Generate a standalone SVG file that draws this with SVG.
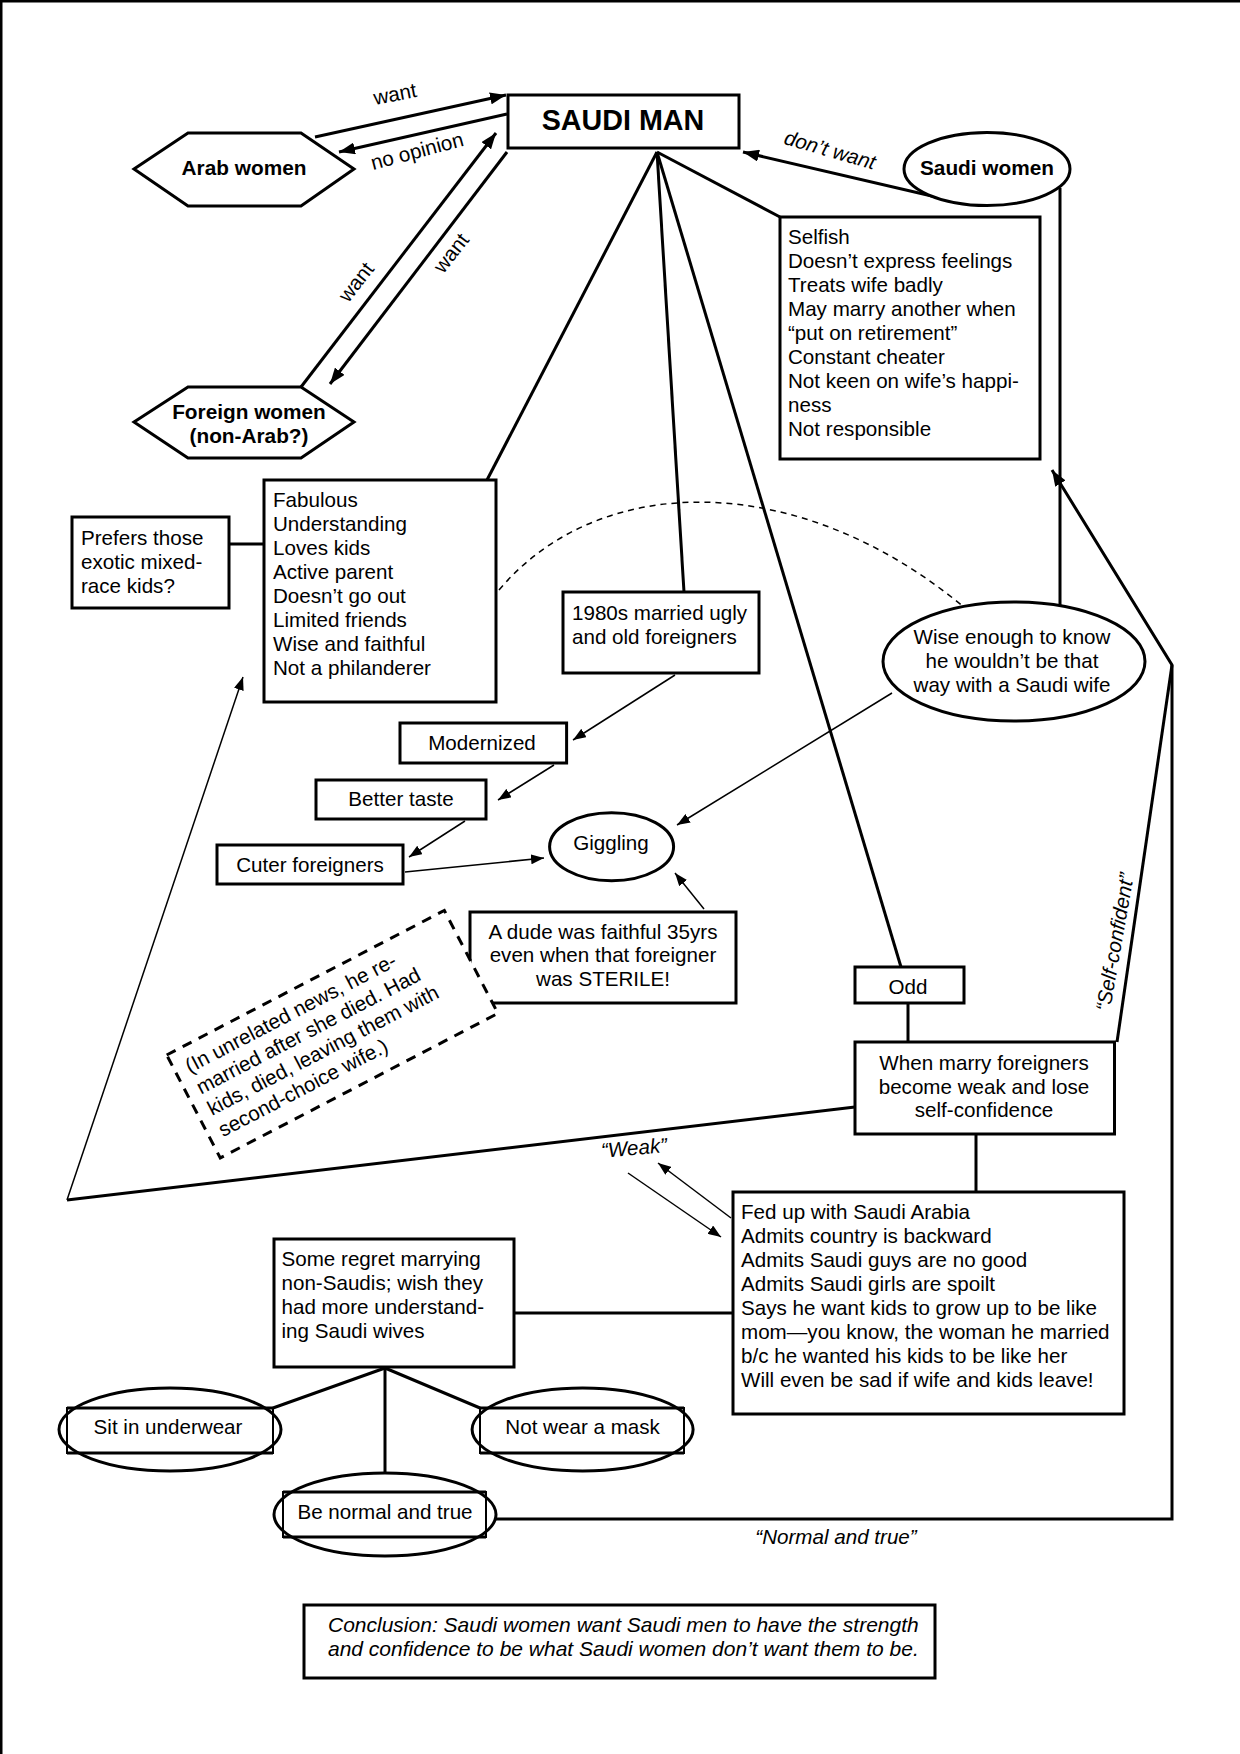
<svg xmlns="http://www.w3.org/2000/svg" width="1240" height="1754" viewBox="0 0 1240 1754">
<style>
.box{fill:#fff;stroke:#000;stroke-width:3}
.t{font-family:"Liberation Sans",Arial,sans-serif;font-size:20.6px;fill:#000}
.b{font-weight:bold}
.i{font-style:italic}
.c{text-anchor:middle}
.ln{stroke:#000;stroke-width:3;fill:none}
.thin{stroke:#000;stroke-width:1.5;fill:none}
</style>
<defs>
<marker id="ah" markerUnits="userSpaceOnUse" markerWidth="17" markerHeight="12" refX="16" refY="6" orient="auto"><path d="M0,0 L16,6 L0,12 z" fill="#000"/></marker>
<marker id="ahs" markerUnits="userSpaceOnUse" markerWidth="14" markerHeight="10" refX="13" refY="5" orient="auto"><path d="M0,0 L13,5 L0,10 z" fill="#000"/></marker>
</defs>
<rect width="1240" height="1754" fill="#fff"/>
<g id="page-border">
<line x1="0" y1="1" x2="1240" y2="1" class="ln" stroke-width="2"/>
<line x1="1" y1="0" x2="1" y2="1754" class="ln" stroke-width="2"/>
</g>

<g id="connectors">
<line x1="315" y1="137" x2="506" y2="95" class="ln" marker-end="url(#ah)"/>
<line x1="507" y1="114" x2="339" y2="152" class="ln" marker-end="url(#ah)"/>
<line x1="301" y1="387" x2="496" y2="133" class="ln" marker-end="url(#ah)"/>
<line x1="507" y1="152" x2="330" y2="384" class="ln" marker-end="url(#ah)"/>
<line x1="936" y1="197" x2="743" y2="152" class="ln" marker-end="url(#ah)"/>
<line x1="657" y1="152" x2="487" y2="480" class="ln"/>
<line x1="657" y1="152" x2="684" y2="592" class="ln"/>
<line x1="657" y1="152" x2="901" y2="967" class="ln"/>
<line x1="657" y1="152" x2="780" y2="217" class="ln"/>
<line x1="1060" y1="188" x2="1060" y2="607" class="ln"/>
<polyline points="496,1519 1172,1519 1172,665 1052,470" class="ln" marker-end="url(#ah)"/>
<line x1="1117" y1="1042" x2="1172" y2="665" class="ln"/>
<line x1="855" y1="1107" x2="67" y2="1200" class="ln"/>
<line x1="67" y1="1200" x2="243" y2="677" class="thin" stroke-width="1.8" marker-end="url(#ahs)"/>
<line x1="908" y1="1003" x2="908" y2="1042" class="ln"/>
<line x1="976" y1="1134" x2="976" y2="1192" class="ln"/>
<line x1="514" y1="1313" x2="733" y2="1313" class="ln"/>
<line x1="229" y1="544" x2="264" y2="544" class="ln"/>
<line x1="385" y1="1368" x2="273" y2="1408" class="ln" stroke-width="2.5"/>
<line x1="385" y1="1368" x2="480" y2="1408" class="ln" stroke-width="2.5"/>
<line x1="385" y1="1368" x2="385" y2="1473" class="ln" stroke-width="2.5"/>
<line x1="675" y1="675" x2="573" y2="740" class="thin" marker-end="url(#ahs)"/>
<line x1="554" y1="765" x2="498" y2="800" class="thin" marker-end="url(#ahs)"/>
<line x1="465" y1="821" x2="409" y2="857" class="thin" marker-end="url(#ahs)"/>
<line x1="405" y1="872" x2="544" y2="858" class="thin" marker-end="url(#ahs)"/>
<line x1="892" y1="693" x2="677" y2="825" class="thin" marker-end="url(#ahs)"/>
<line x1="704" y1="909" x2="675" y2="873" class="thin" marker-end="url(#ahs)"/>
<line x1="731" y1="1218" x2="658" y2="1163" class="thin" marker-end="url(#ahs)"/>
<line x1="628" y1="1173" x2="721" y2="1237" class="thin" marker-end="url(#ahs)"/>
<path d="M499,590 C600,470 800,470 965,608" class="thin" stroke-dasharray="6 5"/>
<text class="t" transform="translate(395,94) rotate(-11)" text-anchor="middle" y="7">want</text>
<text class="t" transform="translate(417,151) rotate(-15)" text-anchor="middle" y="7">no opinion</text>
<text class="t" transform="translate(356,282) rotate(-52)" text-anchor="middle" y="7">want</text>
<text class="t" transform="translate(451,253) rotate(-52)" text-anchor="middle" y="7">want</text>
<text class="t i" transform="translate(830,150) rotate(16)" text-anchor="middle" y="7">don’t want</text>
<text class="t i" transform="translate(634,1148) rotate(-5)" text-anchor="middle" y="7">“Weak”</text>
<text class="t i" transform="translate(1115,942) rotate(-80)" text-anchor="middle" y="7">“Self-confident”</text>
<text class="t i c" x="836" y="1544">“Normal and true”</text>
</g>

<g id="saudi-man">
<rect x="508" y="95" width="231" height="53" class="box"/>
<text class="t b c" x="623" y="130" style="font-size:28.7px">SAUDI MAN</text>
</g>
<g id="arab-women">
<polygon points="134,169 188,133 301,133 354,169 301,206 188,206" class="box"/>
<text class="t b c" x="244" y="175" style="font-size:20.8px">Arab women</text>
</g>
<g id="foreign-women">
<polygon points="134,422 188,387 301,387 354,422 301,458 188,458" class="box"/>
<text class="t b c" x="249" y="419" style="font-size:20.8px">Foreign women</text>
<text class="t b c" x="249" y="443" style="font-size:20.8px">(non-Arab?)</text>
</g>
<g id="saudi-women">
<ellipse cx="987" cy="169" rx="83" ry="36.5" class="box"/>
<text class="t b c" x="987" y="175" style="font-size:20.8px">Saudi women</text>
</g>
<g id="selfish">
<rect x="780" y="217" width="260" height="242" class="box"/>
<text class="t" x="788" y="244">Selfish</text>
<text class="t" x="788" y="268">Doesn’t express feelings</text>
<text class="t" x="788" y="292">Treats wife badly</text>
<text class="t" x="788" y="316">May marry another when</text>
<text class="t" x="788" y="340">“put on retirement”</text>
<text class="t" x="788" y="364">Constant cheater</text>
<text class="t" x="788" y="388">Not keen on wife’s happi-</text>
<text class="t" x="788" y="412">ness</text>
<text class="t" x="788" y="436">Not responsible</text>
</g>
<g id="fabulous">
<rect x="264" y="480" width="232" height="222" class="box"/>
<text class="t" x="273" y="507">Fabulous</text>
<text class="t" x="273" y="531">Understanding</text>
<text class="t" x="273" y="555">Loves kids</text>
<text class="t" x="273" y="579">Active parent</text>
<text class="t" x="273" y="603">Doesn’t go out</text>
<text class="t" x="273" y="627">Limited friends</text>
<text class="t" x="273" y="651">Wise and faithful</text>
<text class="t" x="273" y="675">Not a philanderer</text>
</g>
<g id="prefers">
<rect x="72" y="517" width="157" height="91" class="box"/>
<text class="t" x="81" y="545">Prefers those</text>
<text class="t" x="81" y="569">exotic mixed-</text>
<text class="t" x="81" y="593">race kids?</text>
</g>
<g id="married-1980s">
<rect x="563" y="592" width="196" height="81" class="box"/>
<text class="t" x="572" y="620">1980s married ugly</text>
<text class="t" x="572" y="644">and old foreigners</text>
</g>
<g id="wise">
<ellipse cx="1014" cy="661.5" rx="131" ry="59.5" class="box"/>
<text class="t c" x="1012" y="644">Wise enough to know</text>
<text class="t c" x="1012" y="668">he wouldn’t be that</text>
<text class="t c" x="1012" y="692">way with a Saudi wife</text>
</g>
<g id="modernized">
<rect x="400" y="723" width="166.6" height="40" class="box"/>
<text class="t c" x="482" y="750">Modernized</text>
</g>
<g id="better-taste">
<rect x="316" y="780" width="170" height="39" class="box"/>
<text class="t c" x="401" y="806">Better taste</text>
</g>
<g id="cuter">
<rect x="217" y="845" width="186" height="39" class="box"/>
<text class="t c" x="310" y="872">Cuter foreigners</text>
</g>
<g id="giggling">
<ellipse cx="611.6" cy="846.7" rx="62" ry="34" class="box"/>
<text class="t c" x="611" y="850">Giggling</text>
</g>
<g id="dude">
<rect x="470" y="912" width="266" height="91" class="box"/>
<text class="t c" x="603" y="939">A dude was faithful 35yrs</text>
<text class="t c" x="603" y="962">even when that foreigner</text>
<text class="t c" x="603" y="986">was STERILE!</text>
</g>
<g id="unrelated-news" transform="translate(166.7,1055) rotate(-27.5)">
<rect x="0" y="0" width="313" height="116" fill="#fff" stroke="#000" stroke-width="3" stroke-dasharray="10 8"/>
<text class="t" x="12" y="27">(In unrelated news, he re-</text>
<text class="t" x="12" y="51">married after she died. Had</text>
<text class="t" x="12" y="75">kids, died, leaving them with</text>
<text class="t" x="12" y="99">second-choice wife.)</text>
</g>
<g id="odd">
<rect x="855" y="967" width="109" height="36" class="box"/>
<text class="t c" x="908" y="994">Odd</text>
</g>
<g id="when-marry">
<rect x="855" y="1042" width="259.5" height="92" class="box"/>
<text class="t c" x="984" y="1070">When marry foreigners</text>
<text class="t c" x="984" y="1094">become weak and lose</text>
<text class="t c" x="984" y="1117">self-confidence</text>
</g>
<g id="fed-up">
<rect x="733" y="1192" width="391" height="222" class="box"/>
<text class="t" x="741" y="1219">Fed up with Saudi  Arabia</text>
<text class="t" x="741" y="1243">Admits country is backward</text>
<text class="t" x="741" y="1267">Admits Saudi guys are no good</text>
<text class="t" x="741" y="1291">Admits Saudi girls are spoilt</text>
<text class="t" x="741" y="1315">Says he want kids to grow up to be like</text>
<text class="t" x="741" y="1339">mom—you know, the woman he married</text>
<text class="t" x="741" y="1363">b/c he wanted his kids to be like her</text>
<text class="t" x="741" y="1387">Will even be sad if wife and kids leave!</text>
</g>
<g id="some-regret">
<rect x="274" y="1239" width="240" height="128" class="box"/>
<text class="t" x="281.5" y="1266">Some regret marrying</text>
<text class="t" x="281.5" y="1290">non-Saudis; wish they</text>
<text class="t" x="281.5" y="1314">had more understand-</text>
<text class="t" x="281.5" y="1338">ing Saudi wives</text>
</g>
<g id="sit-underwear">
<ellipse cx="170" cy="1429.5" rx="111" ry="41.5" class="box"/>
<rect x="67" y="1408" width="206" height="45" fill="none" stroke="#000" stroke-width="2"/>
<line x1="67" y1="1408" x2="273" y2="1408" class="ln" stroke-width="4"/>
<line x1="67" y1="1453" x2="273" y2="1453" class="ln" stroke-width="4"/>
<text class="t c" x="168" y="1434">Sit in underwear</text>
</g>
<g id="not-mask">
<ellipse cx="582.6" cy="1429.5" rx="110.5" ry="41.5" class="box"/>
<rect x="480" y="1408" width="204" height="45" fill="none" stroke="#000" stroke-width="2"/>
<line x1="480" y1="1408" x2="684" y2="1408" class="ln" stroke-width="4"/>
<line x1="480" y1="1453" x2="684" y2="1453" class="ln" stroke-width="4"/>
<text class="t c" x="582.6" y="1434">Not wear a mask</text>
</g>
<g id="be-normal">
<ellipse cx="385" cy="1514.5" rx="111" ry="41.5" class="box"/>
<rect x="283" y="1492" width="203" height="45" fill="none" stroke="#000" stroke-width="2"/>
<line x1="283" y1="1492" x2="486" y2="1492" class="ln" stroke-width="4"/>
<line x1="283" y1="1537" x2="486" y2="1537" class="ln" stroke-width="4"/>
<text class="t c" x="385" y="1519">Be normal and true</text>
</g>
<g id="conclusion">
<rect x="304" y="1605" width="631" height="73" class="box" stroke-width="3.5"/>
<text class="t i" x="328" y="1632" style="font-size:21px">Conclusion: Saudi women want Saudi men to have the strength</text>
<text class="t i" x="328" y="1656" style="font-size:21px">and confidence to be what Saudi women don’t want them to be.</text>
</g>
</svg>
